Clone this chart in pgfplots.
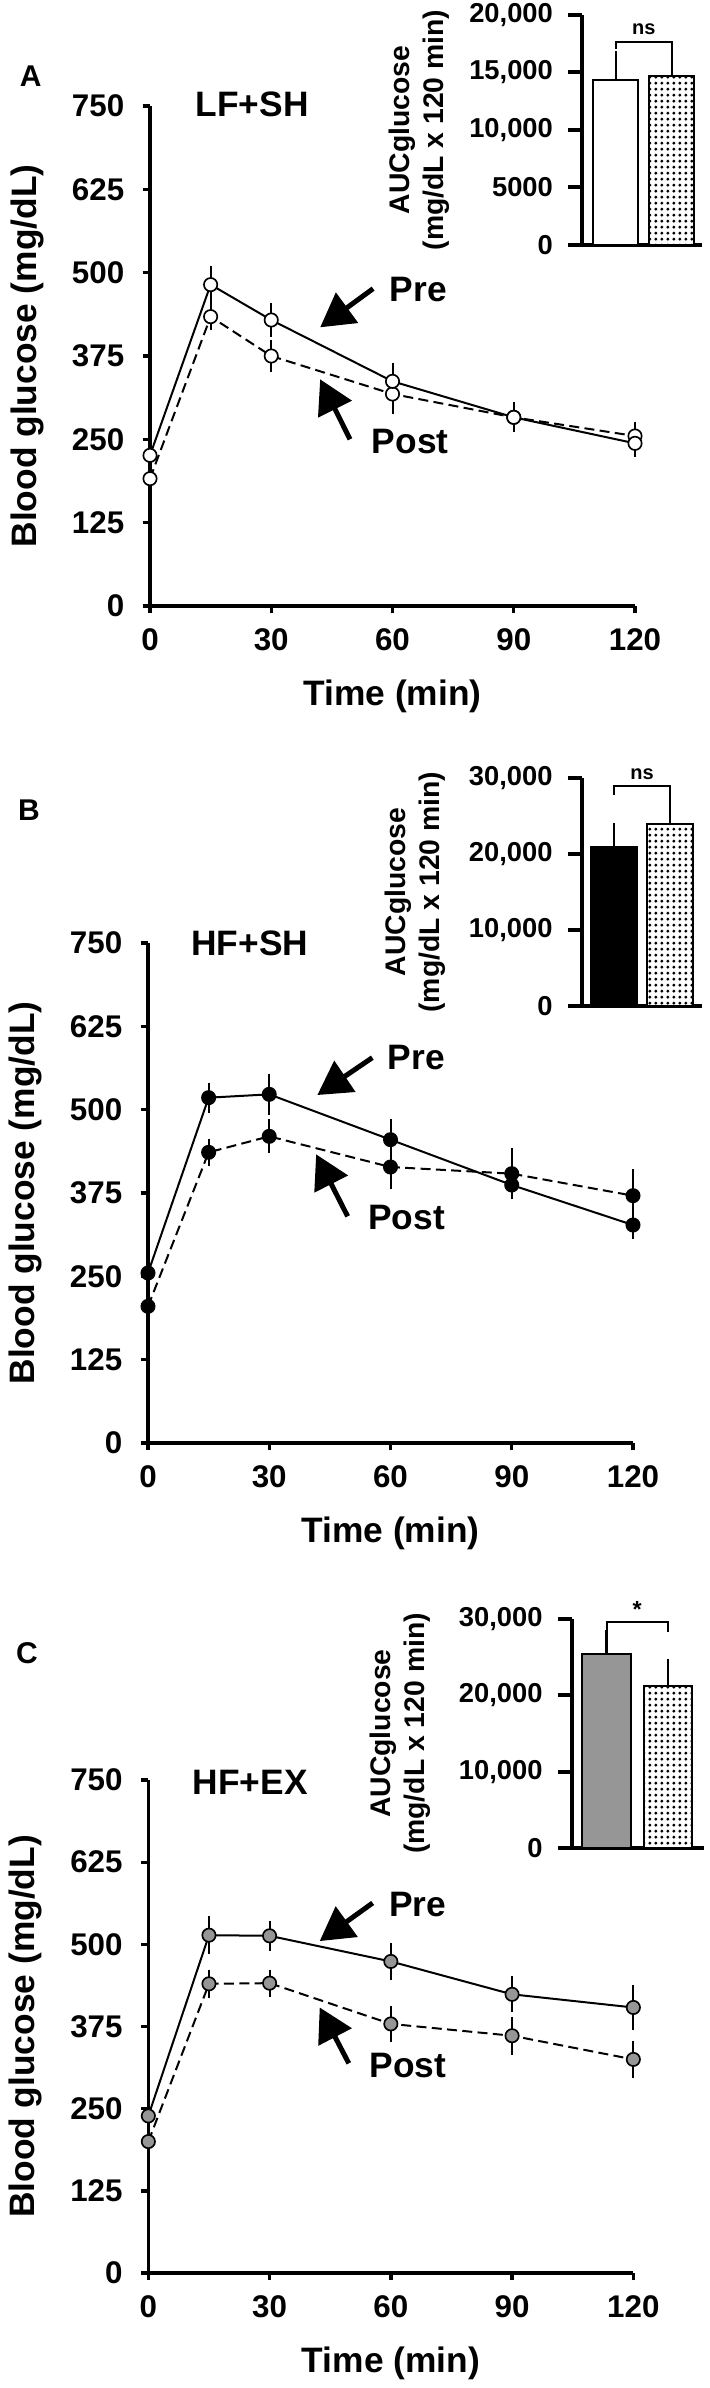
\documentclass[border=0pt]{standalone}
\usepackage{fontspec}
\setmainfont{Liberation Sans}
\usepackage{pgfplots}
\pgfplotsset{compat=1.18}
\usetikzlibrary{arrows.meta, patterns.meta}

\definecolor{midgray}{RGB}{150,150,150}

\tikzdeclarepattern{
  name=bardots, type=uncolored,
  bottom left={(0pt,0pt)}, top right={(1.75pt,1.75pt)},
  tile size={(1.75pt,1.75pt)},
  code={\fill (0.875pt,0.875pt) circle [radius=0.5pt];}
}

\newcommand\tickfont{\fontsize{9.4}{11}\selectfont\bfseries}
\newcommand\labfont{\fontsize{10.6}{12}\selectfont\bfseries}
\newcommand\insetfont{\fontsize{8.2}{10}\selectfont\bfseries}
\newcommand\auclabfont{\fontsize{8.5}{10.2}\selectfont\bfseries}
\newcommand\annfont{\fontsize{10.6}{12}\selectfont\bfseries}

\pgfplotsset{
  glucose/.style={
    scale only axis, width=145.5pt, height=150pt,
    xmin=0, xmax=120, ymin=0, ymax=750,
    axis lines=left, axis line style={-, line width=1pt},
    xtick={0,30,60,90,120}, ytick={0,125,250,375,500,625,750},
    tick align=outside, major tick length=2.2pt,
    every tick/.style={black, line width=1pt},
    /pgf/number format/assume math mode=true,
    ticklabel style={font=\tickfont},
    xticklabel style={yshift=-1pt}, yticklabel style={xshift=-2pt},
    clip=false,
    xlabel={Time (min)}, ylabel={Blood glucose (mg/dL)},
    every axis x label/.style={at={(axis description cs:0.5,0)}, anchor=center, yshift=-27pt, font=\labfont},
    every axis y label/.style={at={(axis description cs:0,0.5)}, anchor=center, xshift=-36.9pt, rotate=90, font=\labfont},
  },
  pre/.style={black, line width=0.6pt, mark=*, mark size=2pt,
    mark options={solid, fill=#1, draw=black, line width=0.5pt},
    error bars/y dir=both, error bars/y explicit, error bars/error mark=-,
    error bars/error mark options={mark size=1.7pt, line width=0.6pt, solid},
    error bars/error bar style={line width=0.6pt, solid}},
  post/.style={pre=#1, dash pattern=on 3pt off 1.6pt},
  inset/.style={
    scale only axis, axis lines=left, axis line style={-, line width=1.2pt},
    xtick=\empty, tick align=outside, major tick length=4.2pt,
    every tick/.style={black, line width=1.2pt},
    ymin=0, clip=false, scaled y ticks=false,
    yticklabel style={font=\insetfont, xshift=-1pt},
    ylabel={AUCglucose\\(mg/dL x 120 min)},
    every axis y label/.style={at={(axis description cs:0,0.5)}, anchor=center, xshift=#1, rotate=90, align=center, font=\auclabfont},
  },
  aucbar/.style={ybar, bar width=#1, bar shift=0pt, draw=black, line width=0.6pt,
    error bars/y dir=plus, error bars/y explicit, error bars/error mark=-,
    error bars/error mark options={mark size=3.3pt, line width=0.7pt},
    error bars/error bar style={line width=0.7pt}},
}

\begin{document}
\begin{tikzpicture}
\useasboundingbox (0,0) rectangle (212.7pt,-716.4pt);

% ---------- A ----------
\node[font=\fontsize{9}{10}\selectfont\bfseries] at (9.2pt,-22.8pt) {A};
\begin{axis}[glucose, at={(45pt,-181.8pt)}, anchor=south west]
\addplot[post=white] coordinates {(0,191) +- (0,6) (15,434) +- (0,12) (30,375) +- (0,16) (60,318) +- (0,22) (90,283) +- (0,14) (120,255) +- (0,13)};
\addplot[pre=white] coordinates {(0,226) +- (0,8) (15,482) +- (0,19) (30,429) +- (0,17) (60,337) +- (0,19) (90,283) +- (0,13) (120,244) +- (0,12)};
\node[anchor=west, font=\labfont] at (axis cs:8.4,752) {LF+SH};
\draw[line width=1.5pt, -{Triangle[length=10pt,width=11pt]}] (axis cs:55.2,476) -- (axis cs:42.1,418);
\node[anchor=west, font=\annfont] at (axis cs:56.4,475) {Pre};
\draw[line width=1.5pt, -{Triangle[length=10pt,width=11pt]}] (axis cs:49.5,250) -- (axis cs:42.1,340);
\node[anchor=west, font=\annfont] at (axis cs:52,247) {Post};
\end{axis}
\begin{axis}[inset=-48.9pt, at={(174.6pt,-73.5pt)}, anchor=south west, width=36pt, height=69pt,
  xmin=0.395, xmax=2.542, ymax=20000, ytick={0,5000,10000,15000,20000},
  yticklabels={0,5000,{10,000},{15,000},{20,000}}]
\addplot[aucbar=13.5pt, fill=white] coordinates {(1,14350) +- (0,1540)};
\addplot[aucbar=13.5pt, fill=white, postaction={pattern=bardots, pattern color=black}] coordinates {(2,14730) +- (0,1710)};
\draw[line width=0.6pt] (axis cs:1,17014) -- (axis cs:1,17681) -- (axis cs:2,17681) -- (axis cs:2,17014);
\node[anchor=south, font=\fontsize{6}{7}\selectfont\bfseries, inner sep=1pt] at (axis cs:1.5,17900) {ns};
\end{axis}

% ---------- B ----------
\node[font=\fontsize{9}{10}\selectfont\bfseries] at (8.7pt,-243.2pt) {B};
\begin{axis}[glucose, at={(44.4pt,-432.9pt)}, anchor=south west]
\addplot[post=black] coordinates {(0,205) +- (0,6) (15,436) +- (0,12) (30,460) +- (0,17) (60,414) +- (0,25) (90,404) +- (0,30) (120,371) +- (0,31)};
\addplot[pre=black] coordinates {(0,255) +- (0,10) (15,518) +- (0,14) (30,523) +- (0,22) (60,455) +- (0,22) (90,387) +- (0,12) (120,327) +- (0,12)};
\node[anchor=west, font=\labfont] at (axis cs:7.8,750) {HF+SH};
\draw[line width=1.5pt, -{Triangle[length=10pt,width=11pt]}] (axis cs:55.5,578) -- (axis cs:41.9,522);
\node[anchor=west, font=\annfont] at (axis cs:56.4,578) {Pre};
\draw[line width=1.5pt, -{Triangle[length=10pt,width=11pt]}] (axis cs:49.4,340) -- (axis cs:41.6,433);
\node[anchor=west, font=\annfont] at (axis cs:51.6,338) {Post};
\end{axis}
\begin{axis}[inset=-50pt, at={(174.5pt,-301.8pt)}, anchor=south west, width=36.1pt, height=68.4pt,
  xmin=0.426, xmax=2.563, ymax=30000, ytick={0,10000,20000,30000},
  yticklabels={0,{10,000},{20,000},{30,000}}]
\addplot[aucbar=13.8pt, fill=black] coordinates {(1,20860) +- (0,1760)};
\addplot[aucbar=13.8pt, fill=white, postaction={pattern=bardots, pattern color=black}] coordinates {(2,23940) +- (0,2980)};
\draw[line width=0.6pt] (axis cs:1,27800) -- (axis cs:1,28895) -- (axis cs:2,28895) -- (axis cs:2,27800);
\node[anchor=south, font=\fontsize{6}{7}\selectfont\bfseries, inner sep=1pt] at (axis cs:1.5,29200) {ns};
\end{axis}

% ---------- C ----------
\node[font=\fontsize{9}{10}\selectfont\bfseries] at (8.1pt,-495.9pt) {C};
\begin{axis}[glucose, at={(44.5pt,-681.9pt)}, anchor=south west, height=147.9pt]
\addplot[post=midgray] coordinates {(0,200) +- (0,6) (15,440) +- (0,13) (30,441) +- (0,12) (60,379) +- (0,19) (90,361) +- (0,20) (120,325) +- (0,20)};
\addplot[pre=midgray] coordinates {(0,239) +- (0,6) (15,514) +- (0,20) (30,513) +- (0,14) (60,474) +- (0,20) (90,424) +- (0,19) (120,404) +- (0,26)};
\node[anchor=west, font=\labfont] at (axis cs:8.1,747) {HF+EX};
\draw[line width=1.5pt, -{Triangle[length=10pt,width=11pt]}] (axis cs:55.5,563) -- (axis cs:42.4,505);
\node[anchor=west, font=\annfont] at (axis cs:56.7,560) {Pre};
\draw[line width=1.5pt, -{Triangle[length=10pt,width=11pt]}] (axis cs:49.6,319) -- (axis cs:42.4,404);
\node[anchor=west, font=\annfont] at (axis cs:51.8,315) {Post};
\end{axis}
\begin{axis}[inset=-51.3pt, at={(171.5pt,-554.4pt)}, anchor=south west, width=39.7pt, height=68.7pt,
  xmin=0.432, xmax=2.59, ymax=30000, ytick={0,10000,20000,30000},
  yticklabels={0,{10,000},{20,000},{30,000}}]
\addplot[aucbar=14.5pt, fill=midgray] coordinates {(1,25410) +- (0,1650)};
\addplot[aucbar=14.5pt, fill=white, postaction={pattern=bardots, pattern color=black}] coordinates {(2,21160) +- (0,2100)};
\draw[line width=0.6pt] (axis cs:1,28240) -- (axis cs:1,29550) -- (axis cs:2,29550) -- (axis cs:2,28240);
\node[anchor=south, font=\fontsize{7}{8}\selectfont\bfseries, inner sep=1pt] at (axis cs:1.5,29700) {*};
\end{axis}
\end{tikzpicture}
\end{document}
